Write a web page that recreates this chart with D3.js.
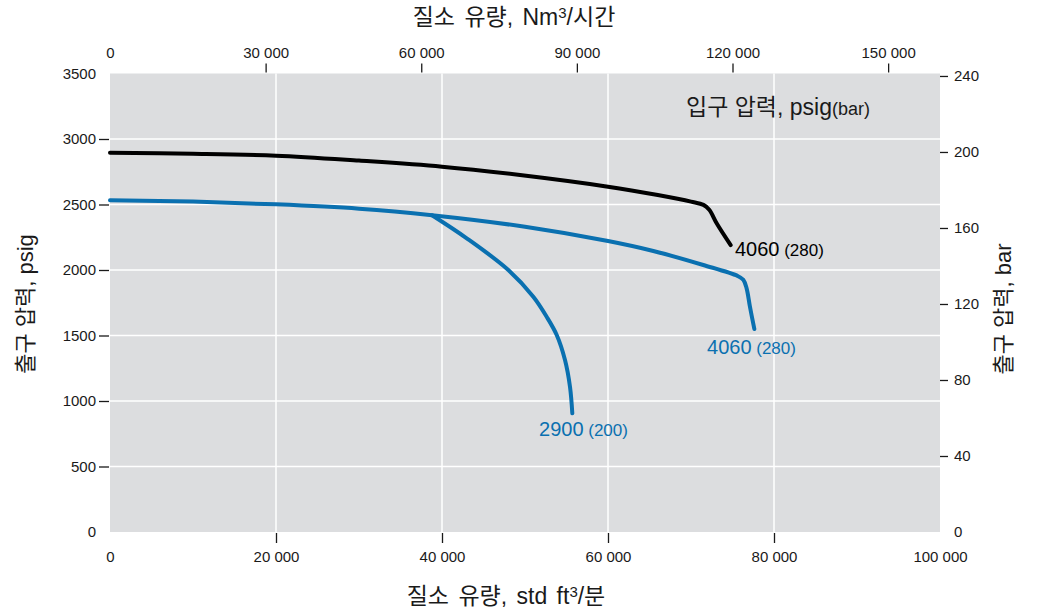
<!DOCTYPE html>
<html><head><meta charset="utf-8">
<script src="https://cdn.jsdelivr.net/npm/d3@7/dist/d3.min.js"></script>
<style>
body{margin:0;background:#fff;}
svg text{font-family:"Liberation Sans","Noto Sans CJK KR",Arial,sans-serif;fill:#1a1a1a;}
</style></head>
<body><svg id="c" width="1039" height="613"></svg>
<script>
// Data (flow in std ft3/min, outlet pressure in psig)
const bottomTicks = [0, 20000, 40000, 60000, 80000, 100000];
const topTicks = [0, 30000, 60000, 90000, 120000, 150000];
const leftTicks = [0, 500, 1000, 1500, 2000, 2500, 3000, 3500];
const rightTicks = [0, 40, 80, 120, 160, 200, 240];

const black4060 = [[0,2895],[10000,2888],[20000,2873],[30000,2835],[40000,2789],[49400,2725],[60000,2636],[66000,2572],[70000,2522],[71500,2497],[72200,2460],[73090,2357],[74780,2190]];
const blue4060 = [[0,2532],[10000,2522],[20000,2501],[30000,2468],[38800,2418],[50000,2330],[60000,2221],[65460,2145],[71480,2038],[75600,1955],[76300,1925],[76700,1860],[77100,1720],[77630,1550]];
const blue2900 = [[38800,2418],[42980,2242],[47990,2000],[51000,1796],[52610,1643],[53820,1504],[54820,1313],[55420,1109],[55700,906]];

const labels = [
  {main:"4060", sub:" (280)", x:75300, y:2107, color:"#000"},
  {main:"4060", sub:" (280)", x:71930, y:1359, color:"#0a70b0"},
  {main:"2900", sub:" (200)", x:51690, y:733, color:"#0a70b0"}
];

const svg = d3.select("#c");
const L=110, R=940, T=73.5, B=532;
const x = d3.scaleLinear().domain([0,100000]).range([L,R]);
const xTop = d3.scaleLinear().domain([0,160000]).range([L,R]);
const y = d3.scaleLinear().domain([0,3500]).range([B,T]);
const yR = d3.scaleLinear().domain([0,241.3]).range([B,T]);
const fmt = v => v>=10000 ? d3.format(",")(v).replace(/,/g," ") : String(v);

svg.append("rect").attr("x",L).attr("y",T).attr("width",R-L).attr("height",B-T).attr("fill","#dcdddf");

// grid
svg.append("g").selectAll("line").data(bottomTicks.slice(1,-1)).join("line")
  .attr("x1",d=>x(d)).attr("x2",d=>x(d)).attr("y1",T).attr("y2",B)
  .attr("stroke","#fff").attr("stroke-width",1.5);
svg.append("g").selectAll("line").data(leftTicks.slice(1,-1)).join("line")
  .attr("x1",L).attr("x2",R).attr("y1",d=>y(d)).attr("y2",d=>y(d))
  .attr("stroke","#fff").attr("stroke-width",1.5);

function styleAxis(g, hideFirst, hideLast){
  g.select(".domain").remove();
  g.selectAll(".tick line").attr("stroke","#1a1a1a").attr("stroke-width",1.3);
  const n = g.selectAll(".tick").size();
  g.selectAll(".tick").each(function(d,i){
    if((hideFirst && i===0) || (hideLast && i===n-1)) d3.select(this).select("line").remove();
  });
  g.selectAll("text").attr("font-size",15).attr("fill","#1a1a1a").style("font-family",'"Liberation Sans",Arial,sans-serif');
}

svg.append("g").attr("transform",`translate(0,${B+1})`)
  .call(d3.axisBottom(x).tickValues(bottomTicks).tickFormat(fmt).tickSize(10).tickPadding(8))
  .call(g=>styleAxis(g,true,true));
svg.append("g").attr("transform",`translate(0,${T-1})`)
  .call(d3.axisTop(xTop).tickValues(topTicks).tickFormat(fmt).tickSize(9).tickPadding(6))
  .call(g=>styleAxis(g,true,false));
svg.append("g").attr("transform",`translate(${L-1},0)`)
  .call(d3.axisLeft(y).tickValues(leftTicks).tickFormat(fmt).tickSize(10).tickPadding(3))
  .call(g=>styleAxis(g,true,true));
svg.append("g").attr("transform",`translate(${R},0)`)
  .call(d3.axisRight(yR).tickValues(rightTicks).tickSize(8).tickPadding(6))
  .call(g=>styleAxis(g,true,false));

// curves
const line = d3.line().x(d=>x(d[0])).y(d=>y(d[1])).curve(d3.curveCatmullRom.alpha(0.5));
[[black4060,"#000"],[blue4060,"#0a70b0"],[blue2900,"#0a70b0"]].forEach(([d,c])=>{
  svg.append("path").datum(d).attr("d",line).attr("fill","none")
    .attr("stroke",c).attr("stroke-width",4).attr("stroke-linecap","round").attr("stroke-linejoin","round");
});

// curve labels
labels.forEach(l=>{
  const t = svg.append("text").attr("x",x(l.x)).attr("y",y(l.y));
  t.append("tspan").text(l.main).attr("font-size",20).style("fill",l.color);
  t.append("tspan").text(l.sub).attr("font-size",17).style("fill",l.color);
});

// legend title
const lt = svg.append("text").attr("x",686).attr("y",115);
lt.append("tspan").text("입구 압력, psig").attr("font-size",23);
lt.append("tspan").text("(bar)").attr("font-size",18);

// axis titles
const tt = svg.append("text").attr("x",514).attr("y",25).attr("text-anchor","middle").attr("font-size",23).attr("word-spacing",3);
tt.append("tspan").text("질소 유량, Nm");
tt.append("tspan").text("3").attr("font-size",15).attr("dy",-7);
tt.append("tspan").text("/시간").attr("dy",7);

const bt = svg.append("text").attr("x",506).attr("y",604).attr("text-anchor","middle").attr("font-size",23).attr("word-spacing",3);
bt.append("tspan").text("질소 유량, std ft");
bt.append("tspan").text("3").attr("font-size",15).attr("dy",-7);
bt.append("tspan").text("/분").attr("dy",7);

svg.append("text").attr("transform","translate(33,304) rotate(-90)").attr("text-anchor","middle")
  .attr("font-size",22).text("출구 압력, psig");
svg.append("text").attr("transform","translate(1011,309) rotate(-90)").attr("text-anchor","middle")
  .attr("font-size",22).text("출구 압력, bar");
</script></body></html>
